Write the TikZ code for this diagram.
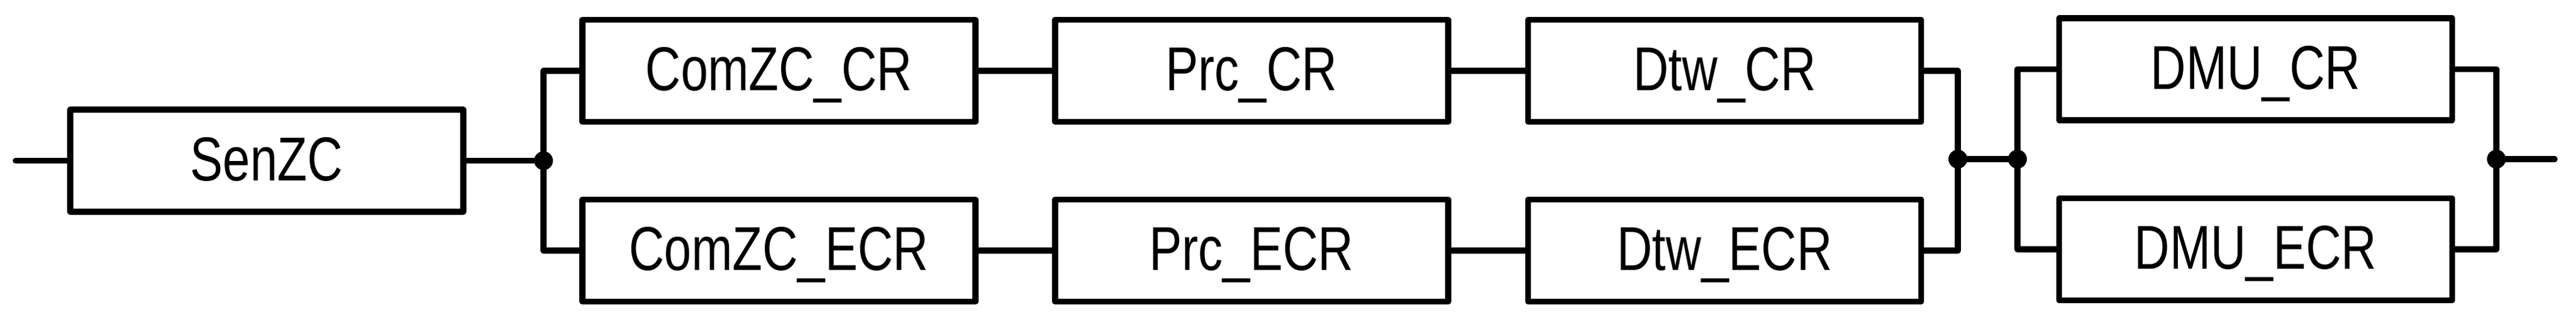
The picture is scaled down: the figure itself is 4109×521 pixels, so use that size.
\documentclass[tikz,border=0pt]{standalone}
\usepackage{fontspec}
\newfontfamily\boxfont[FakeStretch=0.79]{Liberation Sans}
\begin{document}
\begin{tikzpicture}[x=0.1pt,y=-0.1pt,
  line width=0.95pt, line cap=round, line join=round,
  blk/.style={draw, rectangle, inner sep=0pt, minimum width=62.7pt, minimum height=16.3pt,
    text height=6.3pt, text depth=0pt, font=\fontsize{9.9pt}{12pt}\selectfont\boxfont},
  jdot/.style={fill=black}]
\useasboundingbox (0,0) rectangle (4109,521);
% blocks
\node[blk] (senzc)  at (425.5,256.5) {SenZC};
\node[blk] (comcr)  at (1242.5,113) {ComZC\_CR};
\node[blk] (comecr) at (1242.5,400) {ComZC\_ECR};
\node[blk] (prccr)  at (1996.5,113) {Prc\_CR};
\node[blk] (prcecr) at (1996.5,400) {Prc\_ECR};
\node[blk] (dtwcr)  at (2751,113) {Dtw\_CR};
\node[blk] (dtwecr) at (2751,400) {Dtw\_ECR};
\node[blk] (dmucr)  at (3598,110.5) {DMU\_CR};
\node[blk] (dmuecr) at (3598,398) {DMU\_ECR};
% junctions and ends
\coordinate (in)  at (25,256.5);
\coordinate (j1)  at (867,256.5);
\coordinate (j2)  at (3123,254);
\coordinate (j3)  at (3218,254);
\coordinate (j4)  at (3982,254);
\coordinate (out) at (4075,254);
% connectors
\draw (in) -- (senzc.west);
\draw (senzc.east) -- (j1);
\draw (comcr.west) -| (j1) |- (comecr.west);
\draw (comcr.east) -- (prccr.west);
\draw (prccr.east) -- (dtwcr.west);
\draw (comecr.east) -- (prcecr.west);
\draw (prcecr.east) -- (dtwecr.west);
\draw (dtwcr.east) -| (j2) |- (dtwecr.east);
\draw (j2) -- (j3);
\draw (dmucr.west) -| (j3) |- (dmuecr.west);
\draw (dmucr.east) -| (j4) |- (dmuecr.east);
\draw (j4) -- (out);
% dots
\fill[jdot] (j1) circle (1.5pt);
\fill[jdot] (j2) circle (1.5pt);
\fill[jdot] (j3) circle (1.5pt);
\fill[jdot] (j4) circle (1.5pt);
\end{tikzpicture}
\end{document}
